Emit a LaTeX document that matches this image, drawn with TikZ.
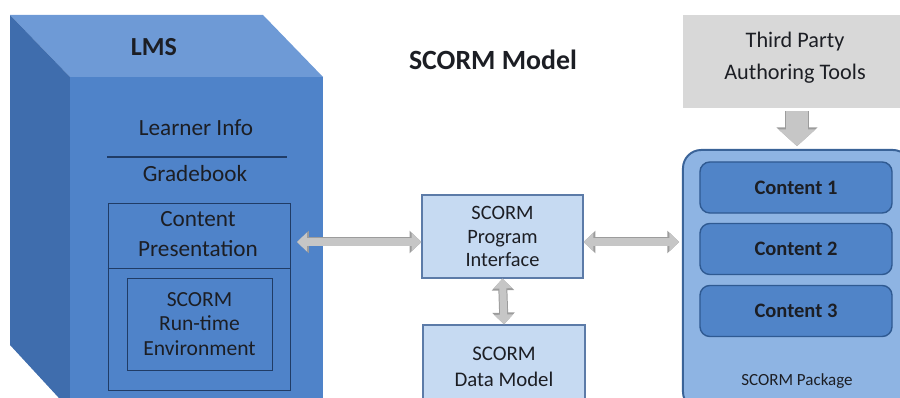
\documentclass[tikz,border=0pt]{standalone}
\usepackage{fontspec}
\setmainfont{Carlito}
\usetikzlibrary{arrows.meta}

\definecolor{cubetop}{HTML}{6E9AD6}
\definecolor{cubefront}{HTML}{4F83C9}
\definecolor{cubeside}{HTML}{3F6DAD}
\definecolor{lmsline}{HTML}{203C66}
\definecolor{scormfill}{HTML}{C6DAF2}
\definecolor{scormedge}{HTML}{5C7BA8}
\definecolor{pkgfill}{HTML}{8EB4E3}
\definecolor{pkgedge}{HTML}{3A6398}
\definecolor{contfill}{HTML}{5084C8}
\definecolor{contedge}{HTML}{2F5A92}
\definecolor{toolfill}{HTML}{D8D8D8}
\definecolor{arrowfill}{HTML}{C6C6C6}
\definecolor{arrowedge}{HTML}{9C9C9C}
\definecolor{ink}{HTML}{1C1E24}

\tikzset{
    txt/.style={align=center, text=ink, inner sep=0pt},
    scormbox/.style={draw=scormedge, fill=scormfill, line width=0.8pt, inner sep=0pt},
    contbox/.style={draw=contedge, fill=contfill, line width=1pt, rounded corners=7pt,
        minimum width=4.8cm, minimum height=1.275cm, text=ink,
        font=\fontsize{14.6}{17}\selectfont\bfseries},
    garrow/.style={line width=5pt, draw=arrowfill,
        {Triangle[width=13pt,length=7pt]}-{Triangle[width=13pt,length=7pt]},
        preaction={draw=arrowedge, line width=6.4pt,
            {Triangle[width=15.5pt,length=8.4pt]}-{Triangle[width=15.5pt,length=8.4pt]}}},
    downarrow/.style={line width=15pt, draw=arrowfill, -{Triangle[width=26pt,length=12pt]},
        preaction={draw=arrowedge, line width=16.4pt, -{Triangle[width=28.5pt,length=13.4pt]}}}
}

\begin{document}
\begin{tikzpicture}[x=0.025cm,y=-0.025cm]
    \useasboundingbox (0,0) rectangle (900,398);
    \clip (0,0) rectangle (900,398);

    % LMS cube
    \fill[cubetop] (10,15) -- (263,15) -- (323,77) -- (70,77) -- cycle;
    \fill[cubeside] (10,15) -- (70,77) -- (70,410) -- (10,345) -- cycle;
    \fill[cubefront] (70,77) rectangle (323,410);

    \node[txt, font=\fontsize{18.5}{20}\selectfont\bfseries] (lms) at (154,47) {LMS};
    \node[txt, font=\fontsize{16.5}{18}\selectfont] (learner) at (196,128) {Learner Info};
    \draw[lmsline, line width=1pt] (107,157) -- (287,157);
    \node[txt, font=\fontsize{16.5}{18}\selectfont] (grade) at (195,174) {Gradebook};

    \node[draw=lmsline, line width=0.6pt, minimum width=4.55cm, minimum height=4.675cm] (cp) at (199,296.5) {};
    \node[txt, font=\fontsize{16.5}{21}\selectfont] (cptext) at (198,234) {Content\\Presentation};
    \draw[lmsline, line width=0.4pt] (cp.west |- 0,268) -- (cp.east |- 0,268);
    \node[draw=lmsline, line width=0.6pt, minimum width=3.625cm, minimum height=2.3cm] (rte) at (199.5,324) {};
    \node[txt, font=\fontsize{15.3}{17.5}\selectfont] at (rte) {SCORM\\Run-time\\Environment};

    % title
    \node[txt, font=\fontsize{19.8}{22}\selectfont\bfseries] (title) at (493,60) {SCORM Model};

    % SCORM API and data model
    \node[scormbox, minimum width=4.025cm, minimum height=2.075cm, txt,
        font=\fontsize{14.5}{17}\selectfont] (pi) at (502.5,236.5) {SCORM\\Program\\Interface};
    \node[scormbox, minimum width=4.05cm, minimum height=2.075cm, txt,
        font=\fontsize{14.8}{18.5}\selectfont] (dm) at (504,366.5) {SCORM\\Data Model};

    % authoring tools and package
    \node[fill=toolfill, minimum width=5.7cm, minimum height=2.325cm] (tools) at (797,61.5) {};
    \node[txt, font=\fontsize{15.8}{23}\selectfont] at (795,58) {Third Party\\Authoring Tools};
    \node[draw=pkgedge, fill=pkgfill, line width=1.4pt, rounded corners=13pt,
        minimum width=5.7cm, minimum height=6.5cm] (pkg) at (797,280) {};
    \foreach \i/\y in {1/187.5,2/249,3/311}
        \node[contbox] (content\i) at (796,\y) {Content \i};
    \node[txt, font=\fontsize{12.1}{14}\selectfont] (pkglabel) at (797,381) {SCORM Package};

    % connectors
    \coordinate (lmsport) at (297,242);
    \draw[garrow] (lmsport) -- (lmsport -| pi.west);
    \draw[garrow] (pi.east |- lmsport) -- ([xshift=-2pt]pkg.west |- lmsport);
    \draw[garrow] (pi.south) -- (dm.north);
    \draw[downarrow, shorten <=2pt] (tools.south) -- ([yshift=2pt]pkg.north);
\end{tikzpicture}
\end{document}
